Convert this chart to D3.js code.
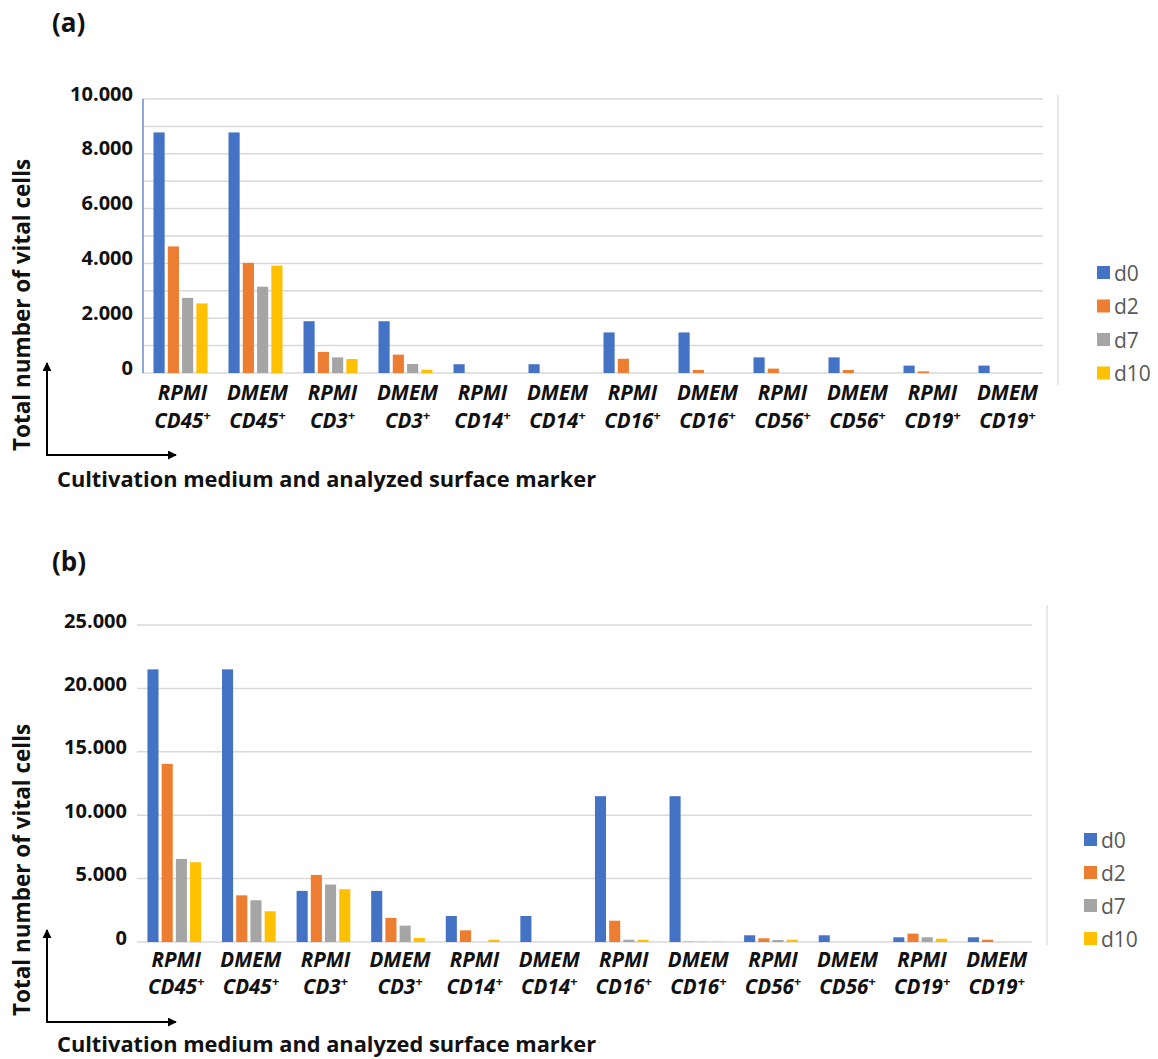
<!DOCTYPE html>
<html>
<head>
<meta charset="utf-8">
<script src="https://cdnjs.cloudflare.com/ajax/libs/d3/7.8.5/d3.min.js"></script>
<style>
  html, body { margin: 0; padding: 0; background: #fff; }
  svg { display: block; }
</style>
</head>
<body>
<svg id="chart" width="1158" height="1059"></svg>
<script>
// ---------- DATA ----------
const media   = ["RPMI","DMEM","RPMI","DMEM","RPMI","DMEM","RPMI","DMEM","RPMI","DMEM","RPMI","DMEM"];
const markers = ["CD45","CD45","CD3","CD3","CD14","CD14","CD16","CD16","CD56","CD56","CD19","CD19"];
const seriesNames = ["d0","d2","d7","d10"];
const seriesColors = ["#4472C4","#ED7D31","#A5A5A5","#FFC000"];

// Panel (a)
const d0A  = [8780, 8780, 1890, 1890, 320, 320, 1480, 1480, 570, 570, 270, 270];
const d2A  = [4620, 4020,  770,  670,   0,   0,  520,  110, 160, 110,  60,   0];
const d7A  = [2740, 3150,  570,  330,   0,   0,    0,    0,   0,   0,   0,   0];
const d10A = [2540, 3920,  510,  120,   0,   0,    0,    0,   0,   0,   0,   0];
const ticksA = [0, 2000, 4000, 6000, 8000, 10000];
const gridA  = [0,1000,2000,3000,4000,5000,6000,7000,8000,9000,10000];

// Panel (b)
const d0B  = [21500, 21500, 4030, 4030, 2050, 2050, 11500, 11500, 530, 530, 370, 370];
const d2B  = [14050,  3680, 5290, 1900,  920,    0,  1680,    30, 290,   0, 660, 180];
const d7B  = [ 6550,  3290, 4530, 1290,    0,    0,   180,    20, 160,   0, 370,   0];
const d10B = [ 6290,  2420, 4160,  320,  180,    0,   180,    20, 180,   0, 260,   0];
const ticksB = [0, 5000, 10000, 15000, 20000, 25000];
const gridB  = [0, 5000, 10000, 15000, 20000, 25000];

const yTitle = "Total number of vital cells";
const xTitle = "Cultivation medium and analyzed surface marker";

// ---------- DRAW ----------
const svg = d3.select("#chart");
svg.append("rect").attr("width",1158).attr("height",1059).attr("fill","#fff");

const defs = svg.append("defs");
defs.append("marker").attr("id","arrow")
  .attr("viewBox","0 0 10 10").attr("refX",9).attr("refY",5)
  .attr("markerWidth",9).attr("markerHeight",9)
  .attr("markerUnits","userSpaceOnUse").attr("orient","auto")
  .append("path").attr("d","M0,0 L10,5 L0,10 z").attr("fill","#000");

const loc = d3.formatLocale({decimal: ",", thousands: ".", grouping: [3], currency: ["",""]});
const fmt = loc.format(",");
const FONT = "'Open Sans', 'DejaVu Sans', sans-serif";

function drawPanel(p) {
  const g = svg.append("g");
  const x0 = d3.scaleBand().domain(d3.range(media.length)).range([p.left, p.right]).paddingInner(0).paddingOuter(0);
  const gw = x0.bandwidth() * 0.72;
  const x1 = d3.scaleBand().domain(seriesNames).range([0, gw]).paddingInner(0.22);
  const y = d3.scaleLinear().domain([0, p.max]).range([p.bottom, p.top]);

  // panel letter
  g.append("text").attr("x", 52).attr("y", p.letterY)
    .attr("font-family", FONT).attr("font-weight", 700).attr("font-size", 26)
    .attr("fill", "#111").text(p.letter);

  // gridlines
  g.append("g").selectAll("line").data(p.grid).join("line")
    .attr("x1", p.left).attr("x2", p.right)
    .attr("y1", d => y(d)).attr("y2", d => y(d))
    .attr("stroke", "#D9D9D9").attr("stroke-width", 1.5);

  // y axis labels
  const yAxis = d3.axisLeft(y).tickValues(p.ticks).tickFormat(fmt).tickSize(0).tickPadding(p.tickPad);
  const ag = g.append("g").attr("transform", `translate(${p.left},0)`).call(yAxis);
  ag.select(".domain").remove();
  ag.selectAll("text").attr("font-family", FONT).attr("font-weight", 700)
    .attr("font-size", 20).attr("fill", "#111").attr("dy", p.labelDy);

  if (p.blueAxis) {
    g.append("line").attr("x1", p.left).attr("x2", p.left).attr("y1", p.top).attr("y2", p.bottom)
      .attr("stroke", "#4472C4").attr("stroke-width", 1.2);
  }

  // bars
  const data = media.map((m, i) => ({ i, vals: p.series.map((s, k) => ({ name: seriesNames[k], v: s[i], c: seriesColors[k] })) }));
  const groups = g.append("g").selectAll("g").data(data).join("g")
    .attr("transform", d => `translate(${x0(d.i) + (x0.bandwidth() - gw) / 2},0)`);
  groups.selectAll("rect").data(d => d.vals.filter(v => v.v > 0)).join("rect")
    .attr("x", d => x1(d.name)).attr("width", x1.bandwidth())
    .attr("y", d => y(d.v)).attr("height", d => y(0) - y(d.v))
    .attr("fill", d => d.c);

  // category labels
  const lab = g.append("g").selectAll("text").data(data).join("text")
    .attr("x", d => x0(d.i) + x0.bandwidth() / 2 + 2)
    .attr("y", p.catY1)
    .attr("text-anchor", "middle")
    .attr("font-family", FONT).attr("font-weight", 700).attr("font-style", "italic")
    .attr("font-size", 20.5).attr("fill", "#111");
  lab.append("tspan").text(d => media[d.i]);
  const l2 = lab.append("tspan").attr("x", d => x0(d.i) + x0.bandwidth() / 2 + 2).attr("y", p.catY2);
  l2.append("tspan").text(d => markers[d.i]);
  l2.append("tspan").attr("dy", -8).attr("font-size", 13).text("+");

  // separator
  g.append("line").attr("x1", p.sepX).attr("x2", p.sepX).attr("y1", p.sepY1).attr("y2", p.sepY2)
    .attr("stroke", "#D9D9D9").attr("stroke-width", 1.2);

  // legend
  const leg = g.append("g").selectAll("g").data(seriesNames).join("g")
    .attr("transform", (d, k) => `translate(${p.legX},${p.legY + k * p.legStep})`);
  leg.append("rect").attr("x", 0).attr("y", -7).attr("width", 13).attr("height", 13)
    .attr("fill", (d, k) => seriesColors[k]);
  leg.append("text").attr("x", 17).attr("y", 0).attr("dy", "0.36em")
    .attr("font-family", FONT).attr("font-size", 21).attr("fill", "#595959").text(d => d);

  // y title
  g.append("text").attr("transform", `translate(30,${p.yTitleBottom}) rotate(-90)`)
    .attr("font-family", FONT).attr("font-weight", 700).attr("font-size", 22.5)
    .attr("fill", "#111").text(yTitle);

  // arrows
  g.append("line").attr("x1", 47).attr("y1", p.arrowY).attr("x2", 47).attr("y2", p.arrowTop)
    .attr("stroke", "#000").attr("stroke-width", 2).attr("marker-end", "url(#arrow)");
  g.append("line").attr("x1", 46).attr("y1", p.arrowY).attr("x2", 176).attr("y2", p.arrowY)
    .attr("stroke", "#000").attr("stroke-width", 2).attr("marker-end", "url(#arrow)");

  // x title
  g.append("text").attr("x", 57).attr("y", p.xTitleY)
    .attr("font-family", FONT).attr("font-weight", 700).attr("font-size", 21.8)
    .attr("fill", "#111").text(xTitle);
}

drawPanel({
  letter: "(a)", letterY: 32,
  series: [d0A, d2A, d7A, d10A], max: 10000, ticks: ticksA, grid: gridA,
  left: 143, right: 1043, top: 99, bottom: 373, tickPad: 10, labelDy: "0.05em", blueAxis: true,
  catY1: 400, catY2: 428,
  sepX: 1058, sepY1: 95, sepY2: 385,
  legX: 1097, legY: 273, legStep: 33.5,
  yTitleBottom: 451, arrowY: 455, arrowTop: 363, xTitleY: 487
});

drawPanel({
  letter: "(b)", letterY: 571,
  series: [d0B, d2B, d7B, d10B], max: 25000, ticks: ticksB, grid: gridB,
  left: 137, right: 1032, top: 625, bottom: 942, tickPad: 10, labelDy: "0.1em", blueAxis: false,
  catY1: 967, catY2: 994,
  sepX: 1047, sepY1: 605, sepY2: 945,
  legX: 1084, legY: 840, legStep: 33,
  yTitleBottom: 1016, arrowY: 1022, arrowTop: 930, xTitleY: 1052
});
</script>
</body>
</html>
